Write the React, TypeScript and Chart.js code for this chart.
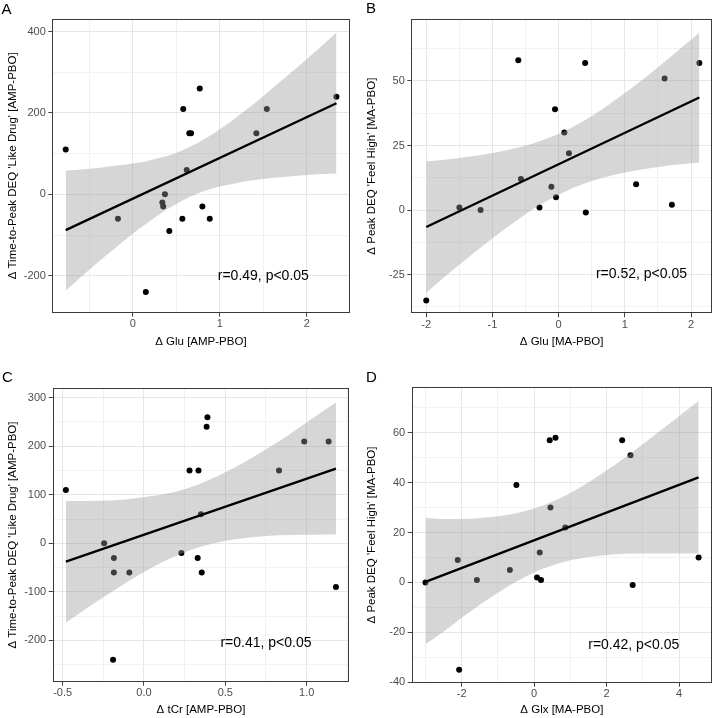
import React, { useEffect, useRef } from 'react';
import { Chart, registerables } from 'chart.js';

Chart.register(...registerables);

const FONT = "'Liberation Sans', Arial, Helvetica, sans-serif";

// ---------------- Panel A data ----------------
const aPtsX = [-0.77, -0.17, 0.15, 0.34, 0.35, 0.37, 0.42, 0.57, 0.58, 0.62, 0.65, 0.67, 0.77, 0.8, 0.885, 1.42, 1.54, 2.34];
const aPtsY = [110, -60, -240, -20, -30, 0, -90, -60, 210, 60, 150, 150, 260, -30, -60, 150, 210, 240];
const aFitX = [-0.77, 2.34];
const aFitY = [-88, 224];
const aBandX = [-0.77, -0.4, -0.2, 0, 0.15, 0.3, 0.45, 0.64, 0.85, 1.0, 1.2, 1.4, 1.6, 1.8, 2.05, 2.34];
const aBandHi = [58, 65, 70, 76, 81, 89, 98, 115, 139, 160, 191, 224, 260, 296, 342, 397];
const aBandLo = [-237, -167, -132, -97, -73, -50, -30, -8, 10, 19, 28, 35, 40, 44, 48, 51];
const aXMajor = [0, 1, 2];
const aXLabels = ['0', '1', '2'];
const aXMinor = [-0.5, 0.5, 1.5];
const aYMajor = [-200, 0, 200, 400];
const aYLabels = ['-200', '0', '200', '400'];
const aYMinor = [-100, 100, 300];

// ---------------- Panel B data ----------------
const bPtsX = [-2.0, -1.5, -1.18, -0.61, -0.57, -0.29, -0.11, -0.055, -0.04, 0.085, 0.155, 0.4, 0.41, 1.17, 1.6, 1.71, 2.125];
const bPtsY = [-35, 1, 0, 58, 12, 1, 9, 39, 5, 30, 22, 57, -1, 10, 51, 2, 57];
const bFitX = [-2.0, 2.125];
const bFitY = [-6.6, 43.6];
const bBandX = [-2.0, -1.75, -1.5, -1.0, -0.5, -0.25, 0.08, 0.3, 0.5, 0.75, 1.0, 1.25, 1.5, 1.8, 2.125];
const bBandHi = [18.9, 19.4, 20.2, 22.1, 24.9, 27.0, 30.4, 33.4, 36.4, 40.7, 45.3, 50.2, 55.3, 61.7, 68.7];
const bBandLo = [-32, -26.5, -21.2, -10.9, -1.6, 2.5, 6.9, 9.4, 11.2, 13.1, 14.5, 15.7, 16.7, 17.6, 18.4];
const bXMajor = [-2, -1, 0, 1, 2];
const bXLabels = ['-2', '-1', '0', '1', '2'];
const bXMinor = [-1.5, -0.5, 0.5, 1.5];
const bYMajor = [-25, 0, 25, 50];
const bYLabels = ['-25', '0', '25', '50'];
const bYMinor = [-37.5, -12.5, 12.5, 37.5, 62.5];

// ---------------- Panel C data ----------------
const cPtsX = [-0.48, -0.245, -0.19, -0.185, -0.185, -0.09, 0.23, 0.28, 0.33, 0.335, 0.35, 0.355, 0.385, 0.39, 0.83, 0.985, 1.135, 1.18];
const cPtsY = [110, 0, -240, -30, -60, -60, -20, 150, -30, 150, 60, -60, 240, 260, 150, 210, 210, -90];
const cFitX = [-0.48, 1.18];
const cFitY = [-37.6, 153.8];
const cBandX = [-0.48, -0.25, -0.1, 0, 0.15, 0.3, 0.45, 0.6, 0.75, 0.9, 1.05, 1.18];
const cBandHi = [87, 88, 91, 95, 103, 117, 138, 164, 194, 226, 261, 290];
const cBandLo = [-163, -111, -79, -59, -33, -12, 2, 10, 15, 17, 17.5, 18];
const cXMajor = [-0.5, 0, 0.5, 1.0];
const cXLabels = ['-0.5', '0.0', '0.5', '1.0'];
const cXMinor = [-0.25, 0.25, 0.75, 1.25];
const cYMajor = [-200, -100, 0, 100, 200, 300];
const cYLabels = ['-200', '-100', '0', '100', '200', '300'];
const cYMinor = [-250, -150, -50, 50, 150, 250];

// ---------------- Panel D data ----------------
const dPtsX = [-3.0, -2.11, -2.07, -1.58, -0.67, -0.49, 0.08, 0.155, 0.19, 0.43, 0.45, 0.59, 0.86, 2.43, 2.66, 2.72, 4.54];
const dPtsY = [0, 9, -35, 1, 5, 39, 2, 12, 1, 57, 30, 58, 22, 57, 51, -1, 10];
const dFitX = [-3.0, 4.54];
const dFitY = [0.2, 42.1];
const dBandX = [-3.0, -2.5, -2.0, -1.5, -1.0, -0.5, 0, 0.3, 1.0, 1.5, 2.0, 2.5, 3.0, 3.75, 4.54];
const dBandHi = [25.8, 25.4, 25.4, 25.8, 26.5, 27.7, 29.6, 31.1, 35.8, 40.1, 44.9, 50.0, 55.4, 63.8, 72.7];
const dBandLo = [-24.8, -19.7, -14.2, -9.0, -4.1, 0.3, 4.0, 5.8, 8.9, 10.2, 11.0, 11.5, 11.6, 11.6, 11.7];
const dXMajor = [-2, 0, 2, 4];
const dXLabels = ['-2', '0', '2', '4'];
const dXMinor = [-3, -1, 1, 3];
const dYMajor = [-40, -20, 0, 20, 40, 60];
const dYLabels = ['-40', '-20', '0', '20', '40', '60'];
const dYMinor = [-30, -10, 10, 30, 50, 70];

// ---------------- Layout ----------------
const W = 358;
const H = 359;

type PanelCfg = {
  letter: string;
  left: number;
  top: number;
  area: { l: number; r: number; t: number; b: number };
  letterX: number;
  letterBase: number;
  xRange: [number, number];
  yRange: [number, number];
  xMajor: number[]; xLabels: string[]; xMinor: number[];
  yMajor: number[]; yLabels: string[]; yMinor: number[];
  ptsX: number[]; ptsY: number[];
  fitX: number[]; fitY: number[];
  bandX: number[]; bandHi: number[]; bandLo: number[];
  xTitle: string; yTitle: string;
  note: string; noteAt: [number, number];
  yTitlePad: number; xTitlePad: number;
};

const panels: PanelCfg[] = [
  {
    letter: 'A', left: 0, top: 0,
    area: { l: 52.3, r: 349.5, t: 19, b: 312.7 },
    letterX: 1.5, letterBase: 13.5,
    xRange: [-0.924, 2.49], yRange: [-291, 431],
    xMajor: aXMajor, xLabels: aXLabels, xMinor: aXMinor,
    yMajor: aYMajor, yLabels: aYLabels, yMinor: aYMinor,
    ptsX: aPtsX, ptsY: aPtsY, fitX: aFitX, fitY: aFitY,
    bandX: aBandX, bandHi: aBandHi, bandLo: aBandLo,
    xTitle: 'Δ Glu [AMP-PBO]', yTitle: "Δ Time-to-Peak DEQ 'Like Drug' [AMP-PBO]",
    note: 'r=0.49, p<0.05', noteAt: [1.5, -200],
    yTitlePad: 6, xTitlePad: 10.4,
  },
  {
    letter: 'B', left: 358, top: 0,
    area: { l: 53.3, r: 355.3, t: 19, b: 313.3 },
    letterX: 8, letterBase: 13,
    xRange: [-2.226, 2.316], yRange: [-40.0, 74.0],
    xMajor: bXMajor, xLabels: bXLabels, xMinor: bXMinor,
    yMajor: bYMajor, yLabels: bYLabels, yMinor: bYMinor,
    ptsX: bPtsX, ptsY: bPtsY, fitX: bFitX, fitY: bFitY,
    bandX: bBandX, bandHi: bBandHi, bandLo: bBandLo,
    xTitle: 'Δ Glu [MA-PBO]', yTitle: "Δ Peak DEQ 'Feel High' [MA-PBO]",
    note: 'r=0.52, p<0.05', noteAt: [1.25, -25],
    yTitlePad: 7, xTitlePad: 10.4,
  },
  {
    letter: 'C', left: 0, top: 359,
    area: { l: 52.7, r: 349.3, t: 29.3, b: 322.7 },
    letterX: 2, letterBase: 23,
    xRange: [-0.561, 1.262], yRange: [-285, 319.4],
    xMajor: cXMajor, xLabels: cXLabels, xMinor: cXMinor,
    yMajor: cYMajor, yLabels: cYLabels, yMinor: cYMinor,
    ptsX: cPtsX, ptsY: cPtsY, fitX: cFitX, fitY: cFitY,
    bandX: cBandX, bandHi: cBandHi, bandLo: cBandLo,
    xTitle: 'Δ tCr [AMP-PBO]', yTitle: "Δ Time-to-Peak DEQ 'Like Drug' [AMP-PBO]",
    note: 'r=0.41, p<0.05', noteAt: [0.75, -205],
    yTitlePad: 6, xTitlePad: 1.1,
  },
  {
    letter: 'D', left: 358, top: 359,
    area: { l: 53.7, r: 356.3, t: 28.3, b: 323.7 },
    letterX: 8, letterBase: 22.5,
    xRange: [-3.38, 4.91], yRange: [-40.2, 78.2],
    xMajor: dXMajor, xLabels: dXLabels, xMinor: dXMinor,
    yMajor: dYMajor, yLabels: dYLabels, yMinor: dYMinor,
    ptsX: dPtsX, ptsY: dPtsY, fitX: dFitX, fitY: dFitY,
    bandX: dBandX, bandHi: dBandHi, bandLo: dBandLo,
    xTitle: 'Δ Glx [MA-PBO]', yTitle: "Δ Peak DEQ 'Feel High' [MA-PBO]",
    note: 'r=0.42, p<0.05', noteAt: [2.75, -25],
    yTitlePad: 7, xTitlePad: 1.1,
  },
];

const near = (a: number, b: number) => Math.abs(a - b) < 1e-6;
const isIn = (arr: number[], v: any) => typeof v === 'number' && arr.some((m) => near(m, v));
const labelFor = (arr: number[], labels: string[], v: number) => {
  const i = arr.findIndex((m) => near(m, v));
  return i >= 0 ? labels[i] : '';
};

const MAJOR_GRID = '#E6E6E6';
const MINOR_GRID = '#F2F2F2';
const TICK_COLOR = '#444444';
const TICK_TEXT = '#4D4D4D';

function ChartPanel({ cfg }: { cfg: PanelCfg }) {
  const ref = useRef<HTMLCanvasElement>(null);

  useEffect(() => {
    const c = cfg;
    const decor = {
      id: 'decor',
      afterDatasetsDraw(chart: any) {
        const { ctx, chartArea: a, scales } = chart;
        ctx.save();
        ctx.strokeStyle = '#3A3A3A';
        ctx.lineWidth = 1;
        const l = Math.round(a.left) + 0.5;
        const t = Math.round(a.top) + 0.5;
        const r = Math.round(a.right) - 0.5;
        const b = Math.round(a.bottom) - 0.5;
        ctx.strokeRect(l, t, r - l, b - t);
        ctx.fillStyle = '#000';
        ctx.font = `14px ${FONT}`;
        ctx.textAlign = 'center';
        ctx.textBaseline = 'middle';
        ctx.fillText(c.note, scales.x.getPixelForValue(c.noteAt[0]), scales.y.getPixelForValue(c.noteAt[1]));
        ctx.restore();
      },
      afterDraw(chart: any) {
        const { ctx } = chart;
        ctx.save();
        ctx.fillStyle = '#000';
        ctx.font = `15px ${FONT}`;
        ctx.textAlign = 'left';
        ctx.textBaseline = 'alphabetic';
        ctx.fillText(c.letter, c.letterX, c.letterBase);
        ctx.restore();
      },
    };

    const tickFont = { family: FONT, size: 11 };
    const titleFont = { family: FONT, size: 11.5 };

    const chart = new Chart(ref.current as HTMLCanvasElement, {
      type: 'line',
      data: {
        datasets: [
          {
            label: 'fit',
            data: c.fitX.map((x, i) => ({ x, y: c.fitY[i] })),
            borderColor: '#000000',
            borderWidth: 2.3,
            pointRadius: 0,
            fill: false,
            order: 0,
          } as any,
          {
            label: 'bandHi',
            data: c.bandX.map((x, i) => ({ x, y: c.bandHi[i] })),
            borderColor: 'rgba(0,0,0,0)',
            borderWidth: 0,
            backgroundColor: 'rgba(153,153,153,0.4)',
            pointRadius: 0,
            fill: '+1',
            cubicInterpolationMode: 'monotone',
            order: 1,
          },
          {
            label: 'bandLo',
            data: c.bandX.map((x, i) => ({ x, y: c.bandLo[i] })),
            borderColor: 'rgba(0,0,0,0)',
            borderWidth: 0,
            pointRadius: 0,
            fill: false,
            cubicInterpolationMode: 'monotone',
            order: 2,
          },
          {
            label: 'points',
            data: c.ptsX.map((x, i) => ({ x, y: c.ptsY[i] })),
            showLine: false,
            pointRadius: 3,
            pointBackgroundColor: '#000000',
            pointBorderWidth: 0,
            pointBorderColor: 'rgba(0,0,0,0)',
            order: 3,
          },
        ],
      },
      options: {
        responsive: false,
        animation: false,
        devicePixelRatio: 1,
        events: [],
        layout: { padding: { left: 0, top: c.area.t, right: W - c.area.r, bottom: 0 } },
        plugins: {
          legend: { display: false },
          tooltip: { enabled: false },
          filler: { propagate: false },
        },
        scales: {
          x: {
            type: 'linear',
            position: 'bottom',
            min: c.xRange[0],
            max: c.xRange[1],
            afterBuildTicks: (s: any) => {
              s.ticks = [...c.xMajor, ...c.xMinor].sort((p, q) => p - q).map((v) => ({ value: v }));
            },
            afterFit: (s: any) => {
              s.height = H - c.area.b;
            },
            ticks: {
              autoSkip: false,
              maxRotation: 0,
              minRotation: 0,
              padding: 1,
              color: TICK_TEXT,
              font: tickFont,
              callback: (v: any) => labelFor(c.xMajor, c.xLabels, Number(v)),
            },
            grid: {
              color: (ctx: any) => (isIn(c.xMajor, ctx.tick && ctx.tick.value) ? MAJOR_GRID : MINOR_GRID),
              lineWidth: 1,
              drawTicks: true,
              tickLength: 4,
              tickWidth: 1,
              tickColor: (ctx: any) => (isIn(c.xMajor, ctx.tick && ctx.tick.value) ? TICK_COLOR : 'rgba(0,0,0,0)'),
            },
            border: { display: false },
            title: {
              display: true,
              text: c.xTitle,
              color: '#000000',
              font: titleFont,
              padding: { top: 0, bottom: c.xTitlePad },
            },
          },
          y: {
            type: 'linear',
            position: 'left',
            min: c.yRange[0],
            max: c.yRange[1],
            afterBuildTicks: (s: any) => {
              s.ticks = [...c.yMajor, ...c.yMinor].sort((p, q) => p - q).map((v) => ({ value: v }));
            },
            afterFit: (s: any) => {
              s.width = c.area.l;
            },
            ticks: {
              autoSkip: false,
              padding: 2.5,
              color: TICK_TEXT,
              font: tickFont,
              callback: (v: any) => labelFor(c.yMajor, c.yLabels, Number(v)),
            },
            grid: {
              color: (ctx: any) => (isIn(c.yMajor, ctx.tick && ctx.tick.value) ? MAJOR_GRID : MINOR_GRID),
              lineWidth: 1,
              drawTicks: true,
              tickLength: 4,
              tickWidth: 1,
              tickColor: (ctx: any) => (isIn(c.yMajor, ctx.tick && ctx.tick.value) ? TICK_COLOR : 'rgba(0,0,0,0)'),
            },
            border: { display: false },
            title: {
              display: true,
              text: c.yTitle,
              color: '#000000',
              font: titleFont,
              padding: { top: c.yTitlePad, bottom: 0 },
            },
          },
        },
      } as any,
      plugins: [decor],
    });

    return () => {
      chart.destroy();
    };
  }, [cfg]);

  return (
    <canvas
      ref={ref}
      width={W}
      height={H}
      style={{ position: 'absolute', left: cfg.left, top: cfg.top, width: W, height: H }}
    />
  );
}

export default function App() {
  return (
    <div
      style={{
        position: 'absolute',
        left: 0,
        top: 0,
        width: 716,
        height: 718,
        background: '#ffffff',
        overflow: 'hidden',
      }}
    >
      {panels.map((p) => (
        <ChartPanel key={p.letter} cfg={p} />
      ))}
    </div>
  );
}
